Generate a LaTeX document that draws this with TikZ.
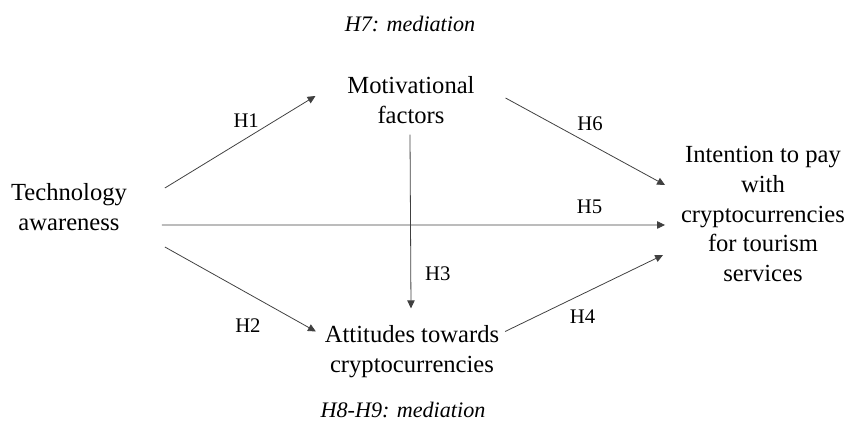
\documentclass[tikz,border=0pt]{standalone}
\usepackage{fontspec}
\setmainfont{Liberation Serif}
\usepackage{tikz}
\usetikzlibrary{arrows.meta}

\begin{document}
\begin{tikzpicture}[
		construct/.style={align=center, inner sep=0pt, outer sep=0pt, font=\fontsize{14}{17}\selectfont},
		hyp/.style={inner sep=0pt, text=black, font=\fontsize{11.8}{14}\selectfont},
		medlabel/.style={inner sep=0pt, font=\fontsize{12.6}{15}\selectfont\itshape},
		link/.style={-{Triangle[length=4.5pt,width=4.2pt]}, line width=0.45pt, color=black!75}
	]
		\useasboundingbox (0,0) rectangle (17,8.46);

		\node[construct] (tech) at (1.38,4.32) {Technology\\awareness};
		\node[construct] (motiv) at (8.22,6.46) {Motivational\\factors};
		\node[construct] (attit) at (8.24,1.43) {Attitudes towards\\cryptocurrencies};
		\node[construct] (intent) at (15.26,4.18) {Intention to pay\\with\\cryptocurrencies\\for tourism\\services};

		\node[medlabel] (medtop) at (8.2,7.98) {H7: mediation};
		\node[medlabel] (medbot) at (8.06,0.26) {H8-H9: mediation};

		\draw[link] ([shift={(0.76,0.38)}]tech.east) -- ([shift={(-0.64,0.08)}]motiv.west) node[hyp, pos=0.54, above=0.21cm] (h1) {H1};
		\draw[link] ([shift={(0.76,-0.8)}]tech.east) -- ([shift={(-0.18,0.4)}]attit.west) node[hyp, pos=0.55, below=0.5cm] (h2) {H2};
		\draw[link] ([shift={(0.70,-0.36)}]tech.east) -- ([shift={(-0.32,-0.22)}]intent.west) node[hyp, pos=0.85, above=0.22cm] (h5) {H5};
		\draw[link] ([shift={(-0.02,-0.22)}]motiv.south) -- ([shift={(-0.02,0.34)}]attit.north) node[hyp, pos=0.8, right=0.28cm] (h3) {H3};
		\draw[link] ([shift={(0.62,0.04)}]motiv.east) -- ([shift={(-0.32,0.58)}]intent.west) node[hyp, pos=0.53, above=0.27cm] (h6) {H6};
		\draw[link] ([shift={(0.12,0.4)}]attit.east) -- ([shift={(-0.36,-0.82)}]intent.west) node[hyp, pos=0.49, below=0.31cm] (h4) {H4};

	\end{tikzpicture}
\end{document}
